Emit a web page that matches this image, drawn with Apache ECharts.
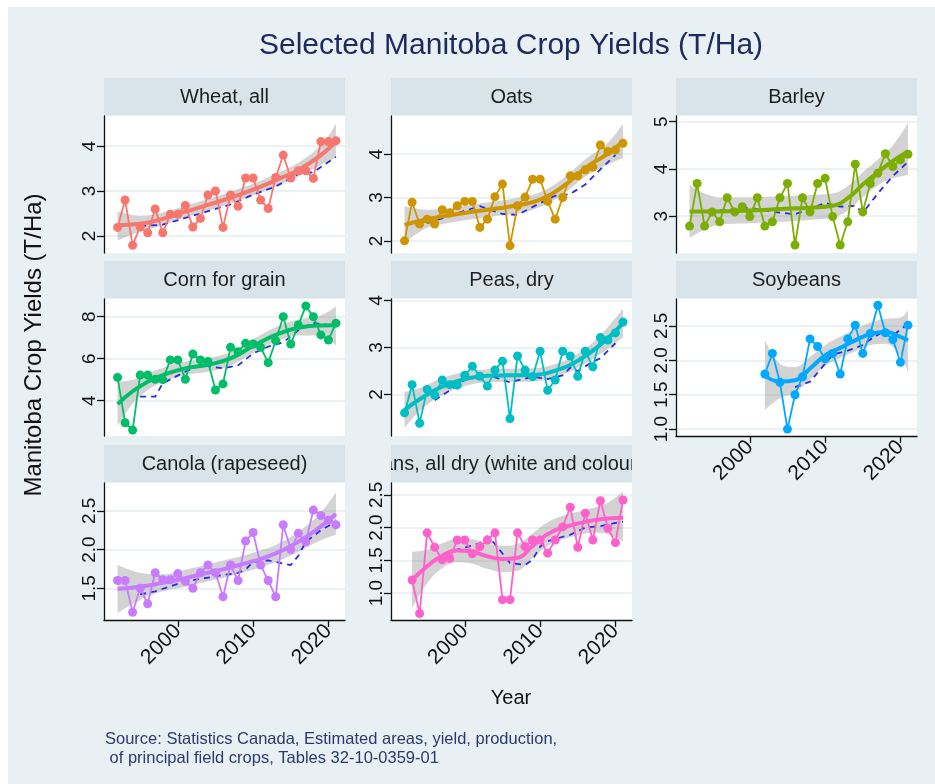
<!DOCTYPE html>
<html>
<head>
<meta charset="utf-8">
<script src="https://cdn.jsdelivr.net/npm/echarts@6/dist/echarts.min.js"></script>
<style>
  html, body { margin: 0; padding: 0; background: #fff; }
  #bg { position: absolute; left: 8px; top: 7px; width: 927px; height: 777px; background: #e8f0f3; }
  #chart { position: absolute; left: 0; top: 0; width: 935px; height: 784px; }
</style>
</head>
<body>
<div id="bg"></div>
<div id="chart"></div>
<script>
// years of the survey
const years = [1992, 1993, 1994, 1995, 1996, 1997, 1998, 1999, 2000, 2001,
  2002, 2003, 2004, 2005, 2006, 2007, 2008, 2009, 2010, 2011,
  2012, 2013, 2014, 2015, 2016, 2017, 2018, 2019, 2020, 2021];
const beansYears = years.slice(1);   // 1993-2021
const soyYears = years.slice(10);    // 2002-2021
const yearTicks = [2000, 2010, 2020];

// yields (T/Ha)
const wheatYield = [2.19, 2.80, 1.79, 2.20, 2.07, 2.60, 2.07, 2.48, 2.48, 2.68, 2.20, 2.39, 2.91, 3.00, 2.19,
  2.91, 2.66, 3.29, 3.29, 2.80, 2.61, 3.30, 3.80, 3.29, 3.45, 3.45, 3.28, 4.10, 4.10, 4.12];
const oatsYield = [2.00, 2.89, 2.39, 2.50, 2.39, 2.72, 2.64, 2.81, 2.91, 2.91, 2.31, 2.50, 3.02, 3.31, 1.89,
  2.81, 3.01, 3.42, 3.42, 2.91, 2.50, 3.00, 3.50, 3.50, 3.64, 3.70, 4.21, 4.06, 4.10, 4.25];
const barleyYield = [2.79, 3.69, 2.79, 3.09, 2.88, 3.39, 3.09, 3.20, 2.99, 3.39, 2.79, 2.88, 3.39, 3.69, 2.39,
  3.39, 3.09, 3.69, 3.80, 2.99, 2.39, 2.88, 4.10, 3.09, 3.69, 3.91, 4.32, 4.05, 4.19, 4.31];
const cornYield = [5.11, 2.95, 2.60, 5.22, 5.22, 5.02, 5.00, 5.94, 5.94, 5.02, 6.22, 5.94, 5.87, 4.51, 4.80,
  6.54, 6.33, 6.73, 6.70, 6.54, 5.81, 6.86, 8.00, 6.70, 7.60, 8.51, 8.00, 7.13, 6.89, 7.69];
const peasYield = [1.61, 2.21, 1.39, 2.11, 1.99, 2.31, 2.21, 2.20, 2.41, 2.60, 2.39, 2.18, 2.52, 2.71, 1.49,
  2.82, 2.52, 2.38, 2.92, 2.09, 2.31, 2.92, 2.82, 2.39, 2.92, 2.59, 3.21, 3.16, 3.31, 3.54];
const soyYield = [1.80, 2.10, 1.68, 1.00, 1.50, 1.76, 2.31, 2.20, 2.02, 2.10, 1.80, 2.31, 2.51, 2.10, 2.39,
  2.80, 2.40, 2.30, 1.97, 2.51];
const canolaYield = [1.60, 1.60, 1.19, 1.50, 1.30, 1.70, 1.61, 1.61, 1.69, 1.59, 1.50, 1.70, 1.80, 1.70, 1.39,
  1.80, 1.60, 2.11, 2.22, 1.80, 1.60, 1.39, 2.32, 2.00, 2.21, 2.10, 2.51, 2.44, 2.38, 2.32];
const beansYield = [1.20, 0.69, 1.92, 1.70, 1.51, 1.53, 1.81, 1.81, 1.60, 1.71, 1.81, 1.92, 0.90, 0.90, 1.92,
  1.71, 1.81, 1.81, 1.61, 1.81, 2.01, 2.31, 1.70, 2.22, 1.81, 2.41, 1.99, 1.77, 2.42];

// smoothed fit and its confidence band, sampled along the curve
const wheatFitYears = [1992, 1995, 1998, 2001, 2004, 2007, 2010, 2013, 2016, 2019, 2021];
const wheatFit = [2.24, 2.27, 2.38, 2.54, 2.69, 2.85, 3.03, 3.24, 3.47, 3.80, 4.10];
const wheatLow = [1.90, 2.10, 2.24, 2.41, 2.56, 2.72, 2.90, 3.10, 3.32, 3.58, 3.74];
const wheatHigh = [2.55, 2.45, 2.52, 2.67, 2.82, 2.98, 3.16, 3.38, 3.63, 4.02, 4.50];

const oatsFitYears = [1992, 1995, 1998, 2001, 2004, 2007, 2010, 2013, 2016, 2019, 2021];
const oatsFit = [2.37, 2.50, 2.59, 2.67, 2.74, 2.82, 2.95, 3.25, 3.68, 4.01, 4.29];
const oatsLow = [1.95, 2.30, 2.42, 2.50, 2.57, 2.63, 2.78, 3.07, 3.48, 3.76, 3.91];
const oatsHigh = [2.80, 2.72, 2.76, 2.84, 2.91, 2.99, 3.12, 3.43, 3.88, 4.26, 4.70];

const barleyFitYears = [1992, 1996, 2000, 2004, 2008, 2011, 2013, 2015, 2017, 2019, 2021];
const barleyFit = [3.10, 3.10, 3.12, 3.15, 3.18, 3.22, 3.38, 3.67, 3.93, 4.17, 4.37];
const barleyLow = [2.54, 2.82, 2.85, 2.88, 2.92, 2.97, 3.12, 3.40, 3.65, 3.80, 3.87];
const barleyHigh = [3.66, 3.40, 3.40, 3.42, 3.45, 3.48, 3.64, 3.93, 4.20, 4.50, 4.97];

const cornFitYears = [1992, 1994, 1996, 1998, 2001, 2004, 2007, 2010, 2013, 2016, 2019, 2021];
const cornFit = [3.84, 4.45, 4.90, 5.22, 5.54, 5.71, 6.01, 6.60, 7.13, 7.47, 7.58, 7.59];
const cornLow = [2.78, 3.85, 4.50, 4.88, 5.22, 5.38, 5.68, 6.27, 6.80, 7.10, 7.10, 6.60];
const cornHigh = [4.90, 5.00, 5.30, 5.56, 5.86, 6.02, 6.32, 6.93, 7.50, 7.86, 8.06, 8.48];

const peasFitYears = [1992, 1994, 1997, 2000, 2003, 2006, 2009, 2012, 2015, 2018, 2021];
const peasFit = [1.67, 1.90, 2.17, 2.33, 2.40, 2.41, 2.42, 2.51, 2.72, 3.06, 3.51];
const peasLow = [1.28, 1.65, 1.99, 2.18, 2.26, 2.27, 2.28, 2.37, 2.57, 2.86, 3.21];
const peasHigh = [2.06, 2.14, 2.35, 2.48, 2.54, 2.55, 2.56, 2.65, 2.87, 3.26, 3.83];

const soyFitYears = [2002, 2004, 2006, 2008, 2010, 2012, 2014, 2016, 2018, 2020, 2021];
const soyFit = [1.78, 1.69, 1.71, 1.88, 2.07, 2.18, 2.29, 2.38, 2.41, 2.34, 2.29];
const soyLow = [1.28, 1.45, 1.53, 1.72, 1.92, 2.03, 2.13, 2.22, 2.24, 2.07, 1.82];
const soyHigh = [2.30, 1.95, 1.90, 2.05, 2.22, 2.34, 2.45, 2.55, 2.60, 2.62, 2.73];

const canolaFitYears = [1992, 1995, 1998, 2001, 2004, 2007, 2010, 2013, 2016, 2019, 2021];
const canolaFit = [1.49, 1.52, 1.57, 1.63, 1.70, 1.77, 1.85, 1.95, 2.10, 2.30, 2.46];
const canolaLow = [1.18, 1.35, 1.46, 1.52, 1.59, 1.66, 1.74, 1.84, 1.97, 2.12, 2.19];
const canolaHigh = [1.80, 1.70, 1.68, 1.74, 1.81, 1.88, 1.96, 2.06, 2.23, 2.48, 2.74];

const beansFitYears = [1993, 1995, 1997, 1999, 2001, 2003, 2005, 2007, 2009, 2011, 2013, 2015, 2017, 2019, 2021];
const beansFit = [1.20, 1.41, 1.57, 1.65, 1.63, 1.56, 1.52, 1.54, 1.72, 1.90, 2.00, 2.06, 2.11, 2.14, 2.15];
const beansLow = [0.77, 1.15, 1.38, 1.47, 1.45, 1.37, 1.32, 1.34, 1.54, 1.72, 1.82, 1.88, 1.92, 1.90, 1.79];
const beansHigh = [1.63, 1.66, 1.76, 1.83, 1.82, 1.76, 1.72, 1.75, 1.91, 2.08, 2.18, 2.24, 2.30, 2.38, 2.55];

// moving average (dashed blue)
const wheatMaYears = [1995, 1998, 2001, 2004, 2007, 2010, 2013, 2016, 2018, 2021];
const wheatMa = [2.22, 2.25, 2.40, 2.55, 2.70, 2.92, 3.10, 3.38, 3.42, 3.76];
const oatsMaYears = [1995, 1997, 1999, 2002, 2005, 2007, 2010, 2012, 2014, 2016, 2018, 2020];
const oatsMa = [2.41, 2.52, 2.64, 2.80, 2.62, 2.60, 2.87, 3.04, 3.08, 3.30, 3.65, 3.98];
const barleyMaYears = [1996, 2000, 2003, 2006, 2008, 2010, 2012, 2014, 2015, 2017, 2019, 2021];
const barleyMa = [3.12, 3.18, 3.09, 3.04, 3.15, 3.28, 3.20, 3.22, 3.07, 3.48, 3.85, 4.15];
const cornMaYears = [1995, 1997, 1998, 2001, 2003, 2006, 2008, 2010, 2012, 2014, 2016, 2018, 2021];
const cornMa = [4.19, 4.19, 4.83, 5.38, 5.70, 5.54, 5.68, 6.25, 6.57, 6.78, 7.35, 7.70, 7.55];
const peasMaYears = [1996, 1998, 2000, 2003, 2006, 2009, 2011, 2013, 2014, 2015, 2017, 2018, 2020];
const peasMa = [1.88, 2.09, 2.31, 2.42, 2.26, 2.38, 2.33, 2.41, 2.57, 2.50, 2.70, 2.77, 3.09];
const soyMaYears = [2006, 2008, 2010, 2011, 2013, 2015, 2016, 2018, 2019, 2021];
const soyMa = [1.61, 1.69, 1.95, 2.08, 2.14, 2.22, 2.30, 2.44, 2.36, 2.53];
const canolaMaYears = [1995, 1997, 2001, 2006, 2008, 2009, 2010, 2012, 2013, 2015, 2016, 2017, 2019, 2021];
const canolaMa = [1.42, 1.46, 1.59, 1.67, 1.70, 1.74, 1.84, 1.86, 1.84, 1.80, 1.92, 2.10, 2.25, 2.36];
const beansMaYears = [1996, 1998, 2002, 2003, 2004, 2006, 2008, 2009, 2010, 2011, 2013, 2014, 2016, 2018, 2020, 2021];
const beansMa = [1.51, 1.63, 1.76, 1.87, 1.75, 1.46, 1.43, 1.51, 1.71, 1.79, 1.86, 1.89, 2.00, 2.02, 2.07, 2.09];

// y tick labels
const wheatTicks = [2, 3, 4];
const oatsTicks = [2, 3, 4];
const barleyTicks = [3, 4, 5];
const cornTicks = [4, 6, 8];
const peasTicks = [2, 3, 4];
const soyTicks = [1, 1.5, 2, 2.5];
const canolaTicks = [1.5, 2, 2.5];
const beansTicks = [1, 1.5, 2, 2.5];

// layout
const FONT = '"Liberation Sans", Arial, sans-serif';
const BG = '#e8f0f3';
const colX = [104, 391, 676];
const rowY = [116, 299, 483];
const plotW = 241, plotH = 137, headH = 38;
const xMin = 1990.2, xMax = 2022.2;

const panels = [
  { name: 'Wheat, all', color: '#F8766D', years: years, values: wheatYield, fitYears: wheatFitYears, fit: wheatFit,
    low: wheatLow, high: wheatHigh, maYears: wheatMaYears, ma: wheatMa, ticks: wheatTicks, col: 0, row: 0, yMin: 1.62, yMax: 4.67, dec: 0 },
  { name: 'Oats', color: '#CD9600', years: years, values: oatsYield, fitYears: oatsFitYears, fit: oatsFit,
    low: oatsLow, high: oatsHigh, maYears: oatsMaYears, ma: oatsMa, ticks: oatsTicks, col: 1, row: 0, yMin: 1.72, yMax: 4.88, dec: 0 },
  { name: 'Barley', color: '#7CAE00', years: years, values: barleyYield, fitYears: barleyFitYears, fit: barleyFit,
    low: barleyLow, high: barleyHigh, maYears: barleyMaYears, ma: barleyMa, ticks: barleyTicks, col: 2, row: 0, yMin: 2.22, yMax: 5.12, dec: 0 },
  { name: 'Corn for grain', color: '#00BE67', years: years, values: cornYield, fitYears: cornFitYears, fit: cornFit,
    low: cornLow, high: cornHigh, maYears: cornMaYears, ma: cornMa, ticks: cornTicks, col: 0, row: 1, yMin: 2.32, yMax: 8.84, dec: 0 },
  { name: 'Peas, dry', color: '#00BFC4', years: years, values: peasYield, fitYears: peasFitYears, fit: peasFit,
    low: peasLow, high: peasHigh, maYears: peasMaYears, ma: peasMa, ticks: peasTicks, col: 1, row: 1, yMin: 1.12, yMax: 4.03, dec: 0 },
  { name: 'Soybeans', color: '#00A9FF', years: soyYears, values: soyYield, fitYears: soyFitYears, fit: soyFit,
    low: soyLow, high: soyHigh, maYears: soyMaYears, ma: soyMa, ticks: soyTicks, col: 2, row: 1, yMin: 0.90, yMax: 2.89, dec: 1, xAxis: true },
  { name: 'Canola (rapeseed)', color: '#C77CFF', years: years, values: canolaYield, fitYears: canolaFitYears, fit: canolaFit,
    low: canolaLow, high: canolaHigh, maYears: canolaMaYears, ma: canolaMa, ticks: canolaTicks, col: 0, row: 2, yMin: 1.09, yMax: 2.86, dec: 1, xAxis: true },
  { name: 'Beans, all dry (white and coloured)', color: '#FF61CC', years: beansYears, values: beansYield, fitYears: beansFitYears, fit: beansFit,
    low: beansLow, high: beansHigh, maYears: beansMaYears, ma: beansMa, ticks: beansTicks, col: 1, row: 2, yMin: 0.59, yMax: 2.68, dec: 1, xAxis: true }
];

const zip = (xs, ys) => xs.map((x, k) => [x, ys[k]]);

const option = {
  animation: false,
  grid: [], xAxis: [], yAxis: [], series: [],
  graphic: { elements: [] }
};

const els = option.graphic.elements;
const txt = (text, x, y, size, color, extra) => Object.assign({
  type: 'text', x: x, y: y, silent: true,
  style: { text: text, x: 0, y: 0, fill: color, fontSize: size, fontFamily: FONT,
    align: 'center', verticalAlign: 'middle', textAlign: 'center', textVerticalAlign: 'middle' }
}, extra || {});

panels.forEach((p, i) => {
  const left = colX[p.col], top = rowY[p.row];
  option.grid.push({ left: left, top: top, width: plotW, height: plotH, show: true, backgroundColor: '#fff', borderWidth: 0 });

  const axisStroke = { color: '#111', width: 1.3 };
  option.xAxis.push({
    gridIndex: i, type: 'value', min: xMin, max: xMax,
    splitLine: { show: false },
    axisLine: { show: !!p.xAxis, onZero: false, lineStyle: axisStroke },
    axisTick: { show: !!p.xAxis, customValues: yearTicks, length: 7, lineStyle: axisStroke },
    axisLabel: { show: !!p.xAxis, customValues: yearTicks, rotate: 45, margin: 8, fontSize: 21, color: '#111',
      fontFamily: FONT, formatter: v => String(v) }
  });
  option.yAxis.push({
    gridIndex: i, type: 'value', min: p.yMin, max: p.yMax,
    axisLine: { show: true, onZero: false, lineStyle: axisStroke },
    axisTick: { show: true, customValues: p.ticks, length: 7, lineStyle: axisStroke },
    axisLabel: { customValues: p.ticks, rotate: 90, margin: 5, fontSize: 19, color: '#111', fontFamily: FONT,
      formatter: v => v.toFixed(p.dec) },
    splitLine: { show: true, lineStyle: { color: '#e4eef2', width: 1.5 } }
  });

  const base = { xAxisIndex: i, yAxisIndex: i, silent: true, symbol: 'none' };
  // confidence band: lower edge, then the band height stacked on it (value first, so y is the stacked dim)
  option.series.push(
    Object.assign({}, base, { type: 'line', name: p.name + ' ci low', stack: 'ci' + i, smooth: 0.4,
      encode: { x: 1, y: 0 }, data: p.fitYears.map((y, k) => [p.low[k], y]),
      lineStyle: { opacity: 0 }, z: 1 }),
    Object.assign({}, base, { type: 'line', name: p.name + ' ci', stack: 'ci' + i, smooth: 0.4,
      encode: { x: 1, y: 0 }, data: p.fitYears.map((y, k) => [+(p.high[k] - p.low[k]).toFixed(3), y]),
      lineStyle: { opacity: 0 }, areaStyle: { color: 'rgba(140,140,140,0.38)', opacity: 1 }, z: 1 }),
    Object.assign({}, base, { type: 'line', name: p.name + ' ma', data: zip(p.maYears, p.ma),
      lineStyle: { color: '#2a2ae6', width: 1.8, type: [6, 5] }, z: 2 }),
    Object.assign({}, base, { type: 'line', name: p.name, data: zip(p.years, p.values),
      symbol: 'circle', symbolSize: 9, itemStyle: { color: p.color },
      lineStyle: { color: p.color, width: 1.8 }, z: 3 }),
    Object.assign({}, base, { type: 'line', name: p.name + ' fit', data: zip(p.fitYears, p.fit), smooth: 0.5,
      lineStyle: { color: p.color, width: 4 }, z: 4 })
  );

  // strip header
  els.push({ type: 'rect', silent: true, z: 0, shape: { x: left, y: top - headH, width: plotW, height: headH - 1 },
    style: { fill: '#d8e4ea' } });
  els.push(txt(p.name, left + plotW / 2, top - headH / 2, 20, '#1e1e1e', { z: 1 }));
});

// masks that clip the long strip label of the beans panel
els.push({ type: 'rect', silent: true, z: 5, shape: { x: colX[0] + plotW, y: rowY[2] - headH - 2, width: colX[1] - colX[0] - plotW, height: headH + 1 },
  style: { fill: BG } });
els.push({ type: 'rect', silent: true, z: 5, shape: { x: colX[1] + plotW, y: rowY[2] - headH - 2, width: colX[2] - colX[1] - plotW, height: headH + 1 },
  style: { fill: BG } });

els.push(txt('Selected Manitoba Crop Yields (T/Ha)', 511, 46, 30, '#1c2a5e'));
els.push(txt('Manitoba Crop Yields (T/Ha)', 34, 345, 24, '#111', { rotation: Math.PI / 2 }));
els.push(txt('Year', 511, 698, 20, '#111'));
els.push({ type: 'text', x: 105, y: 749, silent: true,
  style: { text: 'Source: Statistics Canada, Estimated areas, yield, production,\n of principal field crops, Tables 32-10-0359-01',
    x: 0, y: 0, fill: '#2a3a6e', fontSize: 16.5, fontFamily: FONT, lineHeight: 19,
    align: 'left', verticalAlign: 'middle', textAlign: 'left', textVerticalAlign: 'middle' } });

const chart = echarts.init(document.getElementById('chart'), null, { renderer: 'canvas' });
chart.setOption(option);
</script>
</body>
</html>
